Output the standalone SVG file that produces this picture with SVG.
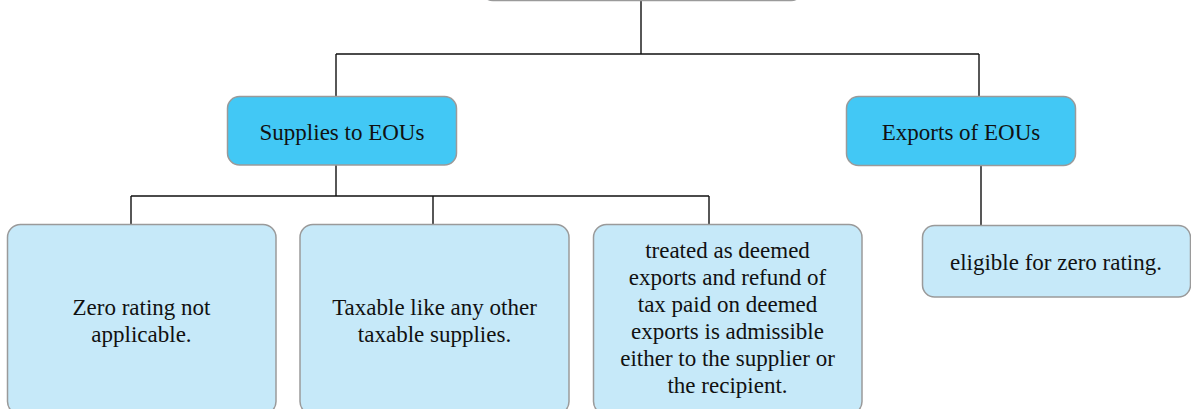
<svg xmlns="http://www.w3.org/2000/svg" width="1191" height="409" viewBox="0 0 1191 409">
  <style>
    .box { stroke: #9a9a9a; stroke-width: 1.5; }
    .main { fill: #42c8f5; }
    .leaf { fill: #c6e9f9; }
    .lbl { font-family: "Liberation Serif", "DejaVu Serif", serif; font-size: 23px; fill: #111; text-anchor: middle; }
    .wire { stroke: #111; stroke-width: 1.4; fill: none; }
  </style>

  <!-- tree connectors -->
  <g id="connectors">
    <path class="wire" d="M641,1 V54 M336,54 H979 M336,54 V96 M979,54 V96"/>
    <path class="wire" d="M336,165 V196 M131,196 H709 M131,196 V224 M433,196 V224 M709,196 V224"/>
    <path class="wire" d="M981,166 V225"/>
  </g>

  <!-- root node (only its lower edge falls inside the canvas) -->
  <g id="root">
    <rect class="box main" x="481" y="-60" width="322" height="60.5" rx="12"/>
  </g>

  <g id="supplies">
    <rect class="box main" x="227.5" y="96.5" width="229" height="68.5" rx="12"/>
    <text class="lbl" x="342" y="140">Supplies to EOUs</text>
  </g>

  <g id="exports">
    <rect class="box main" x="846.5" y="96.5" width="229" height="69" rx="12"/>
    <text class="lbl" x="961" y="140">Exports of EOUs</text>
  </g>

  <g id="zero-rating">
    <rect class="box leaf" x="7.5" y="224.5" width="268.5" height="190" rx="13"/>
    <text class="lbl" x="141.5" y="315">Zero rating not</text>
    <text class="lbl" x="141.5" y="342">applicable.</text>
  </g>

  <g id="taxable">
    <rect class="box leaf" x="300" y="224.5" width="269" height="190" rx="13"/>
    <text class="lbl" x="434.5" y="315">Taxable like any other</text>
    <text class="lbl" x="434.5" y="342">taxable supplies.</text>
  </g>

  <g id="deemed-exports">
    <rect class="box leaf" x="593.5" y="224.5" width="268.5" height="190" rx="13"/>
    <text class="lbl" x="727.5" y="258">treated as deemed</text>
    <text class="lbl" x="727.5" y="285">exports and refund of</text>
    <text class="lbl" x="727.5" y="312">tax paid on deemed</text>
    <text class="lbl" x="727.5" y="339">exports is admissible</text>
    <text class="lbl" x="727.5" y="366">either to the supplier or</text>
    <text class="lbl" x="727.5" y="393">the recipient.</text>
  </g>

  <g id="zero-rated">
    <rect class="box leaf" x="922.5" y="225.5" width="268" height="71.5" rx="12"/>
    <text class="lbl" x="1056" y="270">eligible for zero rating.</text>
  </g>
</svg>
